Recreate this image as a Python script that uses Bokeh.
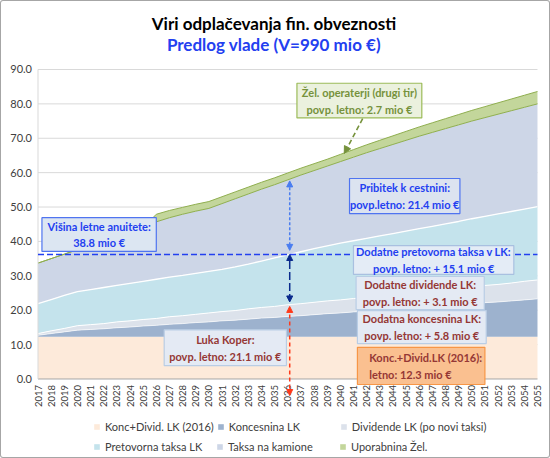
import math
import numpy as np

from bokeh.core.properties import value
from bokeh.embed import file_html
from bokeh.models import (Arrow, ColumnDataSource, Legend, LegendItem, NormalHead,
                          Range1d)
from bokeh.plotting import figure
from bokeh.resources import INLINE

# ─── data (mio €) ───────────────────────────────────────────────────────────
years = list(range(2017, 2056))

konc_divid_2016 = [12.3] * len(years)
koncesnina = [0.4, 0.9, 1.4, 1.9, 2.1, 2.3, 2.6, 2.8, 3.1, 3.3,
              3.6, 3.8, 4.1, 4.3, 4.6, 4.8, 5.1, 5.4, 5.6, 5.9,
              6.1, 6.4, 6.7, 6.9, 7.2, 7.4, 7.7, 8.0, 8.2, 8.5,
              8.8, 9.0, 9.3, 9.6, 9.9, 10.1, 10.4, 10.7, 11.0]
dividende = [0.5, 0.8, 1.0, 1.3, 1.4, 1.5, 1.7, 1.8, 1.9, 2.0,
             2.2, 2.3, 2.4, 2.6, 2.7, 2.8, 3.0, 3.1, 3.2, 3.4,
             3.5, 3.6, 3.7, 3.8, 3.9, 4.0, 4.1, 4.2, 4.4, 4.5,
             4.6, 4.7, 4.8, 4.9, 5.0, 5.1, 5.2, 5.4, 5.5]
pretovorna = [8.7, 9.1, 9.6, 9.9, 10.2, 10.5, 10.6, 10.9, 11.1, 11.4,
              11.5, 11.7, 11.9, 12.1, 12.3, 12.7, 13.0, 13.5, 14.1, 14.5,
              15.1, 15.6, 16.0, 16.5, 16.8, 17.2, 17.5, 17.8, 18.1, 18.4,
              18.7, 19.1, 19.4, 19.8, 20.1, 20.5, 20.8, 21.0, 21.3]
taksa_kamioni = [11.8, 11.9, 12.0, 12.2, 12.9, 13.6, 14.3, 14.9, 15.6, 16.7,
                 17.3, 17.8, 18.1, 18.3, 19.1, 19.8, 20.4, 20.9, 21.3, 21.8,
                 22.3, 22.7, 23.2, 23.7, 24.3, 24.9, 25.4, 25.9, 26.4, 26.9,
                 27.3, 27.7, 28.1, 28.4, 28.7, 29.0, 29.3, 29.6, 29.9]
uporabnina_zel = [0, 0, 0, 0, 0, 0, 0, 0, 0, 2.2,
                  2.1, 2.0, 2.0, 2.0, 2.0, 2.0, 2.0, 2.0, 2.0, 2.0,
                  2.0, 2.0, 2.0, 2.1, 2.2, 2.3, 2.4, 2.5, 2.6, 2.7,
                  2.8, 2.9, 3.0, 3.1, 3.2, 3.3, 3.4, 3.5, 3.6]

series_labels = ["Konc+Divid. LK (2016)", "Koncesnina LK", "Dividende LK (po novi taksi)",
                 "Pretovorna taksa LK", "Taksa na kamione", "Uporabnina Žel."]
y_ticks = [0, 10, 20, 30, 40, 50, 60, 70, 80, 90]

# stated averages
luka_koper_avg = 21.1
pretovorna_avg = 15.1
pribitek_avg = 21.4

# ─── style ──────────────────────────────────────────────────────────────────
FONT = "Lato"
BLUE = "#2340F0"
LBLUE = "#4A7DF0"
NAVY = "#0A2A8C"
DARKRED = "#953735"
OLIVE = "#76923C"
RED = "#FF3A1A"
TXT = "#404040"
fills = ["#FDEADA", "#9DB2CE", "#DCE2EB", "#C4E3EC", "#CDD6E7", "#C3D69B"]

cols = ["base", "konc", "div", "pret", "kam", "zel"]
src = ColumnDataSource(dict(year=years, base=konc_divid_2016, konc=koncesnina,
                            div=dividende, pret=pretovorna, kam=taksa_kamioni,
                            zel=uporabnina_zel))
tops = np.cumsum(np.array([src.data[c] for c in cols], dtype=float), axis=0)

# the frame fills the whole canvas: titles, axis labels and legend are drawn in it
p = figure(width=550, height=458, output_backend="svg", toolbar_location=None,
           title=None, x_range=Range1d(2014.147, 2055.99),
           y_range=Range1d(-23.12, 110.06), x_axis_location=None,
           y_axis_location=None, min_border=0)
p.outline_line_color = None
p.border_fill_color = None
p.background_fill_color = None
p.grid.grid_line_color = None
p.styles = {"box-shadow": "inset 0 0 0 1px #A6A6A6", "border-radius": "3px"}

# titles
title_x = 2034.95
p.text(x=[title_x], y=[103.3], text=["Viri odplačevanja fin. obveznosti"],
       text_align="center", text_baseline="middle", text_font=value(FONT),
       text_font_size="17px", text_font_style="bold", text_color="black")
p.text(x=[title_x], y=[97.3], text=["Predlog vlade (V=990 mio €)"],
       text_align="center", text_baseline="middle", text_font=value(FONT),
       text_font_size="17px", text_font_style="bold", text_color=BLUE)

# grid lines
p.segment(x0=years[0], x1=years[-1], y0=y_ticks[1:], y1=y_ticks[1:],
          color="#D9D9D9", line_width=1)

# ─── stacked areas ──────────────────────────────────────────────────────────
areas = p.varea_stack(stackers=cols, x="year", color=fills, source=src)
p.line(years, tops[1], color="white", line_width=0.8, alpha=0.8)
p.line(years, tops[2], color="white", line_width=1)
p.line(years, tops[3], color="white", line_width=1.3)
p.line(years, tops[4], color="#8FAE4F", line_width=1)
p.line(years, tops[5], color="#8FAE4F", line_width=1)

# axis lines
p.line([years[0], years[-1]], [0, 0], color="#A6A6A6", line_width=1)
p.line([years[0], years[0]], [0, y_ticks[-1]], color="#D9D9D9", line_width=1)

# annual annuity line
anuiteta_level = luka_koper_avg + pretovorna_avg
p.line([years[0], years[-1]], [anuiteta_level, anuiteta_level], color=BLUE,
       line_width=1.6, line_dash="6 3")

# ─── arrows at 2036 ─────────────────────────────────────────────────────────
ax = 2036.15
def dbl_arrow(y0, y1, color, dash, w=1.5):
    p.add_layout(Arrow(x_start=ax, y_start=y0, x_end=ax, y_end=y1,
                       line_color=color, line_width=w, line_dash=dash,
                       start=NormalHead(size=6, fill_color=color, line_color=color),
                       end=NormalHead(size=6, fill_color=color, line_color=color)))

dbl_arrow(-4.8, luka_koper_avg, RED, "4 3")
dbl_arrow(luka_koper_avg + 1.3, anuiteta_level, NAVY, "8 3")
dbl_arrow(anuiteta_level + 1.2, anuiteta_level + pribitek_avg, LBLUE, "3 2")

p.add_layout(Arrow(x_start=2041.7, y_start=75.7, x_end=2040.3, y_end=65.6,
                   line_color=OLIVE, line_width=1.6, line_dash="5 3",
                   end=NormalHead(size=7, fill_color=OLIVE, line_color=OLIVE)))

# ─── text boxes ─────────────────────────────────────────────────────────────
# (left, right, bottom, top, fill, border, text, text colour, align)
boxes = [
    (2036.7, 2046.2, 75.9, 86.0, "#EBF1DE", "#9BBB59",
     "Žel. operaterji (drugi tir)\npovp. letno: 2.7 mio €", OLIVE, "center"),
    (2040.7, 2049.1, 48.1, 58.3, "#DCE3F0", "#4F74F0",
     "Pribitek k cestnini:\npovp.letno: 21.4 mio €", BLUE, "center"),
    (2017.3, 2026.0, 37.1, 46.9, "#DCE6F2", "#4F74F0",
     "Višina letne anuitete:\n38.8 mio €", BLUE, "center"),
    (2041.0, 2053.2, 30.4, 38.8, "#E4ECF6", "#A9C0E0",
     "Dodatne pretovorna taksa v LK:\npovp. letno: + 15.1 mio €", BLUE, "center"),
    (2041.2, 2050.95, 20.2, 29.8, "#E4EAF4", "#B9CDE5",
     "Dodatne dividende LK:\npovp. letno: + 3.1 mio €", DARKRED, "center"),
    (2041.3, 2051.1, 10.3, 19.9, "#E4EAF4", "#B9CDE5",
     "Dodatna koncesnina LK:\npovp. letno: + 5.8 mio €", DARKRED, "center"),
    (2041.3, 2051.0, -1.6, 9.2, "#FAC090", "#F79646",
     "Konc.+Divid.LK (2016):\nletno: 12.3 mio €", DARKRED, "left"),
    (2026.6, 2035.9, 3.9, 14.3, "#E4EAF4", "#B9CDE5",
     "Luka Koper:\npovp. letno: 21.1 mio €", DARKRED, "center"),
]
for l, r, b, t, fc, lc, txt, tc, al in boxes:
    p.quad(left=l, right=r, bottom=b, top=t, fill_color=fc, line_color=lc, line_width=1.2)
    tx = (l + r) / 2 if al == "center" else l + 0.9
    p.text(x=[tx], y=[(b + t) / 2], text=[txt], text_align=al, text_baseline="middle",
           text_font=value(FONT), text_font_size="11px", text_font_style="bold",
           text_color=tc, text_line_height=1.3)

# ─── axis labels ────────────────────────────────────────────────────────────
p.text(x=years, y=[0] * len(years), text=[str(y) for y in years], angle=math.pi / 2,
       y_offset=6, text_align="right", text_baseline="middle",
       text_font=value(FONT), text_font_size="9.5px", text_color=TXT)
p.text(x=[years[0]] * len(y_ticks), y=y_ticks, text=[f"{v:.1f}" for v in y_ticks],
       x_offset=-6, text_align="right", text_baseline="middle",
       text_font=value(FONT), text_font_size="11px", text_color=TXT)

# ─── legend: two rows at the bottom ─────────────────────────────────────────
items = [LegendItem(label=lab, renderers=[r]) for lab, r in zip(series_labels, areas)]
for row_items, vy in ((items[:3], 25), (items[3:], 5)):
    lg = Legend(items=row_items, orientation="horizontal", location=(93, vy),
                label_text_font=FONT, label_text_font_size="11px",
                label_text_color=TXT, glyph_width=7, glyph_height=7,
                label_width=108, label_height=13, label_standoff=5, spacing=3,
                padding=1, margin=0, border_line_color=None, background_fill_alpha=0)
    p.add_layout(lg, "center")

open("out.html", "w").write(file_html(p, INLINE))
